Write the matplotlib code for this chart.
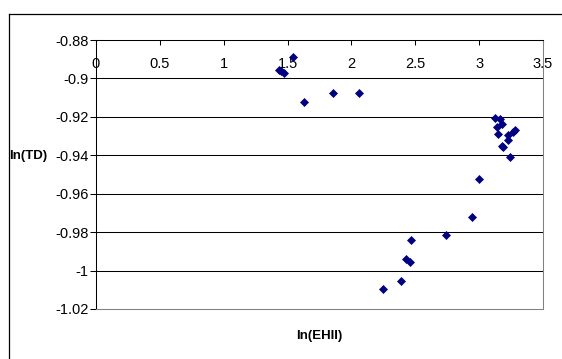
import numpy as np
import matplotlib
matplotlib.use('Agg')
import matplotlib.pyplot as plt
from matplotlib.ticker import FuncFormatter, MultipleLocator
from matplotlib.lines import Line2D

plt.rcParams['font.family'] = ['Liberation Sans', 'DejaVu Sans']

# ln(EHII) vs ln(TD)
ln_ehii = [1.436, 1.449, 1.472, 1.545, 1.626, 1.853, 2.057,
           3.124, 3.164, 3.138, 3.182, 3.146, 3.229, 3.281, 3.268,
           3.226, 3.177, 3.190, 3.240, 3.002, 2.942, 2.738, 2.467,
           2.428, 2.459, 2.388, 2.250]
ln_td = [-0.8956, -0.8961, -0.8970, -0.8887, -0.9124, -0.9076, -0.9077,
         -0.9204, -0.9211, -0.9251, -0.9238, -0.9289, -0.9292, -0.9268, -0.9278,
         -0.9320, -0.9350, -0.9355, -0.9410, -0.9524, -0.9722, -0.9817, -0.9840,
         -0.9942, -0.9956, -1.0056, -1.0098]

W, H = 562, 359
fig = plt.figure(figsize=(W/100, H/100), dpi=100)
fig.patch.set_facecolor('white')

# plot area in pixels: left 96, right 543, top 40, bottom 309
ax = fig.add_axes([96/W, 1-309/H, (543-96)/W, (309-40)/H])
ax.set_xlim(0, 3.5)
ax.set_ylim(-1.02, -0.88)

for yv in np.arange(-1.0, -0.885, 0.02):
    ax.axhline(yv, color='black', lw=0.75, zorder=1)

ax.plot(ln_ehii, ln_td, 'D', color='#000080', ms=3.9, mec='#000080', mew=0.5,
        zorder=3, clip_on=False)

fmt = FuncFormatter(lambda v, p: '%g' % round(v, 4))
ax.xaxis.set_major_locator(MultipleLocator(0.5))
ax.yaxis.set_major_locator(MultipleLocator(0.02))
ax.xaxis.set_major_formatter(fmt)
ax.yaxis.set_major_formatter(fmt)

# x axis sits on the top edge, labels hang below it inside the plot
ax.tick_params(axis='x', bottom=False, labelbottom=False, top=True, labeltop=True,
               direction='in', length=3.5, width=0.75, pad=-22.5, labelsize=10.5)
ax.tick_params(axis='y', direction='out', length=4.5, width=0.75, pad=1,
               labelsize=10.5)

ax.spines['top'].set_color('black')
ax.spines['left'].set_color('black')
ax.spines['right'].set_color('#808080')
ax.spines['bottom'].set_color('#808080')
for s in ax.spines.values():
    s.set_linewidth(0.75)

fig.text(9/W, 1-156/H, 'ln(TD)', fontsize=9.5, fontweight='bold',
         ha='left', va='center')
fig.text(319/W, 1-336/H, 'ln(EHII)', fontsize=9.5, fontweight='bold',
         ha='center', va='center')

# chart frame
fig.add_artist(Line2D([9/W, 9/W], [0, 1-13.5/H], color='black', lw=0.9,
                      transform=fig.transFigure))
fig.add_artist(Line2D([9/W, 1], [1-13.5/H, 1-13.5/H], color='black', lw=0.9,
                      transform=fig.transFigure))

fig.savefig('out.png', dpi=100)
